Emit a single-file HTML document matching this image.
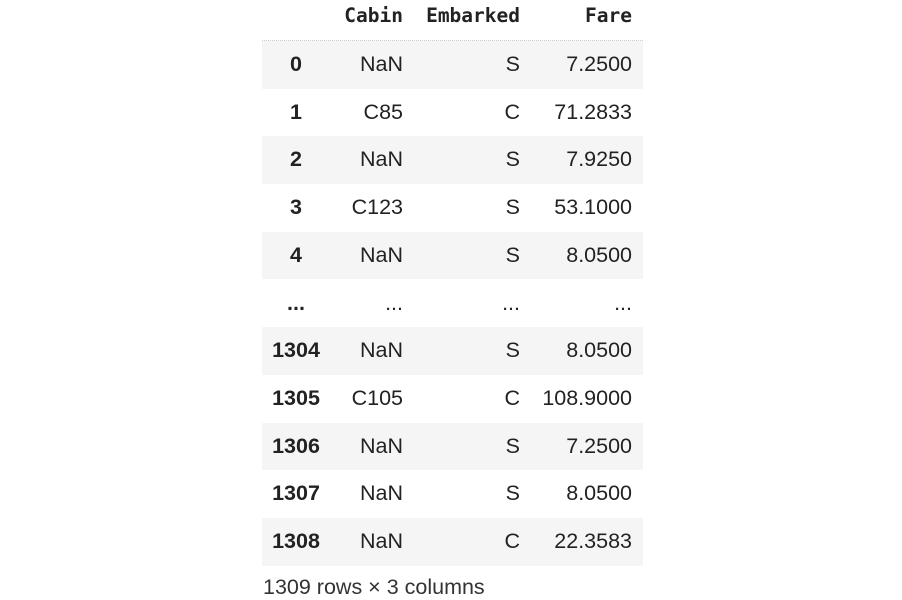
<!DOCTYPE html>
<html><head><meta charset="utf-8"><style>
body{margin:0;width:902px;height:600px;background:#fff;position:relative;overflow:hidden;font-family:"Liberation Sans",sans-serif;color:#222}
.hdr{position:absolute;top:0;height:40px;line-height:31px;font-family:"DejaVu Sans Mono","Liberation Mono",monospace;font-weight:bold;font-size:19.5px;color:#222}
.sep{position:absolute;left:262px;width:381px;top:40px;border-top:1px dotted #ccc}
.row{position:absolute;left:262px;width:381px;height:47.7px;line-height:47.7px;font-size:21.5px}
.row.g{background:#f5f5f5}
.row span{position:absolute;top:0}
.idx{left:0;width:68px;text-align:center;font-weight:bold}
.c1{right:240px;text-align:right}
.c2{right:123px;text-align:right}
.c3{right:11px;text-align:right}
.foot{position:absolute;left:263px;top:575px;font-size:21.5px;color:#333}
</style></head><body>
<div class="hdr" style="right:499px">Cabin</div>
<div class="hdr" style="right:382px">Embarked</div>
<div class="hdr" style="right:270px">Fare</div>
<div class="sep"></div>
<div id="rows"></div>
<div class="foot">1309 rows × 3 columns</div>
<script>
const idx=["0","1","2","3","4","...","1304","1305","1306","1307","1308"];
const cabin=["NaN","C85","NaN","C123","NaN","...","NaN","C105","NaN","NaN","NaN"];
const emb=["S","C","S","S","S","...","S","C","S","S","C"];
const fare=["7.2500","71.2833","7.9250","53.1000","8.0500","...","8.0500","108.9000","7.2500","8.0500","22.3583"];
const host=document.getElementById('rows');
idx.forEach((v,i)=>{
  const r=document.createElement('div');
  r.className='row'+(i%2===0?' g':'');
  r.style.top=(41+i*47.7)+'px';
  
  
  r.innerHTML='<span class="idx">'+v+'</span><span class="c1">'+cabin[i]+'</span><span class="c2">'+emb[i]+'</span><span class="c3">'+fare[i]+'</span>';
  host.appendChild(r);
});
</script>
</body></html>
